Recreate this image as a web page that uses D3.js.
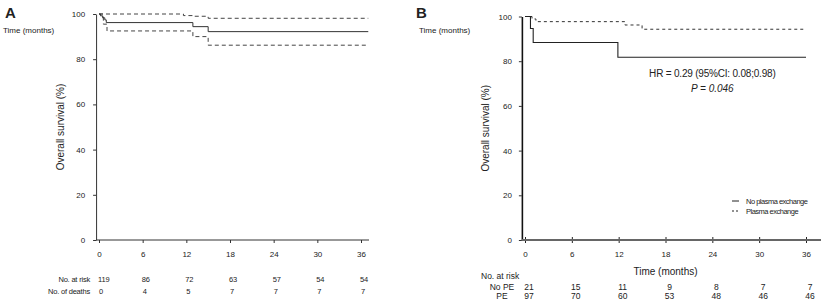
<!DOCTYPE html>
<html>
<head>
<meta charset="utf-8">
<script src="https://cdn.jsdelivr.net/npm/d3@7"></script>
<style>
  body { margin: 0; background: #fff; }
  svg text { font-family: "Liberation Sans", Arial, sans-serif; fill: #222; }
</style>
</head>
<body>
<div id="chart"></div>
<script>
/* DATA */
const monthTicks = [0, 6, 12, 18, 24, 30, 36];
const survTicks = [0, 20, 40, 60, 80, 100];

// panel A: overall KM curve with 95% CI  [month, survival %]
const aSurv = [[0, 100], [0.2, 99.2], [0.5, 98.3], [0.8, 97.4], [1.0, 96.2], [12.9, 94.4], [15, 92.2], [37, 92.2]];
const aUpper = [[0, 100], [11.6, 99.3], [12.9, 99.0], [15, 98.1], [37, 98.1]];
const aLower = [[0, 100], [0.6, 95.5], [1.1, 92.5], [12.9, 90.0], [15, 86.2], [37, 86.2]];
const aAtRisk = [119, 86, 72, 63, 57, 54, 54];
const aDeaths = [0, 4, 5, 7, 7, 7, 7];

// panel B: no plasma exchange vs plasma exchange
const bNoPE = [[0, 100], [0.7, 94.6], [1.05, 88.4], [11.9, 81.8], [36, 81.8]];
const bPE = [[0, 100], [0.9, 98.9], [1.4, 97.7], [12.8, 96.2], [15, 94.3], [36, 94.3]];
const bRiskNoPE = [21, 15, 11, 9, 8, 7, 7];
const bRiskPE = [97, 70, 60, 53, 48, 46, 46];

const width = 821, height = 306;

const svg = d3.select("#chart").append("svg")
  .attr("width", width)
  .attr("height", height);

/* PANEL A */
const xA = d3.scaleLinear().domain([0, 36]).range([99, 361]);
const yA = d3.scaleLinear().domain([0, 100]).range([240, 14]);
const axisXA = xA(-0.4);

const gA = svg.append("g");

gA.append("text").attr("x", 5).attr("y", 18)
  .attr("font-size", 15).attr("font-weight", "bold").text("A");
gA.append("text").attr("x", 3).attr("y", 33)
  .attr("font-size", 8).text("Time (months)");

// y axis
const yAxisA = gA.append("g")
  .attr("transform", `translate(${axisXA},0)`)
  .call(d3.axisLeft(yA).tickValues(survTicks).tickSize(3).tickSizeOuter(0).tickPadding(8));
yAxisA.selectAll("text").attr("font-size", 8).style("font-family", "Liberation Sans, Arial");
yAxisA.selectAll("path, line").attr("stroke", "#333");

// x axis
const xAxisA = gA.append("g")
  .attr("transform", `translate(0,${yA(0)})`)
  .call(d3.axisBottom(xA).tickValues(monthTicks).tickSize(3).tickSizeOuter(0).tickPadding(8));
xAxisA.select(".domain").remove();
xAxisA.append("line")
  .attr("x1", axisXA).attr("x2", xA(37.1))
  .attr("stroke", "#333");
xAxisA.selectAll("text").attr("font-size", 8).style("font-family", "Liberation Sans, Arial");
xAxisA.selectAll(".tick line").attr("stroke", "#333");

gA.append("text")
  .attr("transform", `translate(64,${(yA(0) + yA(100)) / 2}) rotate(-90)`)
  .attr("text-anchor", "middle")
  .attr("font-size", 10)
  .text("Overall survival (%)");

const lineA = d3.line()
  .x(d => xA(d[0]))
  .y(d => yA(d[1]))
  .curve(d3.curveStepAfter);

gA.append("path").datum(aUpper).attr("d", lineA)
  .attr("fill", "none").attr("stroke", "#444").attr("stroke-width", 1)
  .attr("stroke-dasharray", "4,3");
gA.append("path").datum(aLower).attr("d", lineA)
  .attr("fill", "none").attr("stroke", "#444").attr("stroke-width", 1)
  .attr("stroke-dasharray", "4,3");
gA.append("path").datum(aSurv).attr("d", lineA)
  .attr("fill", "none").attr("stroke", "#333").attr("stroke-width", 1);

// risk table A
gA.append("text").attr("x", 90).attr("y", 282).attr("text-anchor", "end")
  .attr("font-size", 7.5).attr("letter-spacing", -0.2).text("No. at risk");
gA.append("text").attr("x", 90).attr("y", 294).attr("text-anchor", "end")
  .attr("font-size", 7.5).attr("letter-spacing", -0.2).text("No. of deaths");

gA.selectAll(".riskA").data(aAtRisk).join("text")
  .attr("class", "riskA")
  .attr("x", (d, i) => xA(monthTicks[i]) - 1)
  .attr("y", 282).attr("font-size", 7.5).attr("letter-spacing", -0.2)
  .text(d => d);
gA.selectAll(".deathA").data(aDeaths).join("text")
  .attr("class", "deathA")
  .attr("x", (d, i) => xA(monthTicks[i]))
  .attr("y", 294).attr("font-size", 7.5)
  .text(d => d);

/* PANEL B */
const xB = d3.scaleLinear().domain([0, 36]).range([525, 806]);
const yB = d3.scaleLinear().domain([0, 100]).range([240, 16.5]);
const axisXB = xB(-0.4);

const gB = svg.append("g");

gB.append("text").attr("x", 416).attr("y", 18)
  .attr("font-size", 15).attr("font-weight", "bold").text("B");
gB.append("text").attr("x", 419).attr("y", 33)
  .attr("font-size", 8).text("Time (months)");

const yAxisB = gB.append("g")
  .attr("transform", `translate(${axisXB},0)`)
  .call(d3.axisLeft(yB).tickValues(survTicks).tickSize(3).tickSizeOuter(0).tickPadding(7));
yAxisB.selectAll("text").attr("font-size", 8).style("font-family", "Liberation Sans, Arial");
yAxisB.select(".domain").attr("stroke", "#111").attr("stroke-width", 1.6);
yAxisB.selectAll(".tick line").attr("stroke", "#333");

const xAxisB = gB.append("g")
  .attr("transform", `translate(0,${yB(0)})`)
  .call(d3.axisBottom(xB).tickValues(monthTicks).tickSize(3).tickSizeOuter(0).tickPadding(8));
xAxisB.select(".domain").remove();
xAxisB.append("line")
  .attr("x1", axisXB).attr("x2", width)
  .attr("stroke", "#666").attr("stroke-width", 1.8);
xAxisB.selectAll("text").attr("font-size", 8).style("font-family", "Liberation Sans, Arial");
xAxisB.selectAll(".tick line").attr("stroke", "#222").attr("y1", -3).attr("y2", 3);

gB.append("text")
  .attr("transform", `translate(489,${(yB(0) + yB(100)) / 2}) rotate(-90)`)
  .attr("text-anchor", "middle")
  .attr("font-size", 10)
  .text("Overall survival (%)");

gB.append("text")
  .attr("x", xB(18)).attr("y", 275)
  .attr("text-anchor", "middle").attr("font-size", 10)
  .text("Time (months)");

const lineB = d3.line()
  .x(d => xB(d[0]))
  .y(d => yB(d[1]))
  .curve(d3.curveStepAfter);

gB.append("path").datum(bPE).attr("d", lineB)
  .attr("fill", "none").attr("stroke", "#333").attr("stroke-width", 1)
  .attr("stroke-dasharray", "3,3");
gB.append("path").datum(bNoPE).attr("d", lineB)
  .attr("fill", "none").attr("stroke", "#222").attr("stroke-width", 1.1);

// HR annotation
gB.append("text")
  .attr("x", xB(24)).attr("y", 77)
  .attr("text-anchor", "middle").attr("font-size", 10).attr("letter-spacing", -0.2)
  .text("HR = 0.29 (95%CI: 0.08;0.98)");
gB.append("text")
  .attr("x", xB(24)).attr("y", 92)
  .attr("text-anchor", "middle").attr("font-size", 10).attr("font-style", "italic")
  .text("P = 0.046");

// legend
const legendItems = [
  { label: "No plasma exchange", dash: null },
  { label: "Plasma exchange", dash: "2,2" }
];
const legend = gB.append("g").attr("transform", "translate(732,201)");
legendItems.forEach((d, i) => {
  legend.append("line")
    .attr("x1", 0).attr("x2", 7)
    .attr("y1", i * 10).attr("y2", i * 10)
    .attr("stroke", "#222").attr("stroke-width", 1)
    .attr("stroke-dasharray", d.dash);
  legend.append("text")
    .attr("x", 14).attr("y", i * 10 + 3)
    .attr("font-size", 7.5).attr("letter-spacing", -0.5)
    .text(d.label);
});

// risk table B
gB.append("text").attr("x", 481).attr("y", 279)
  .attr("font-size", 8.5).text("No. at risk");
gB.append("text").attr("x", 502).attr("y", 290).attr("text-anchor", "middle")
  .attr("font-size", 8.5).text("No PE");
gB.append("text").attr("x", 502).attr("y", 299).attr("text-anchor", "middle")
  .attr("font-size", 8.5).text("PE");

gB.selectAll(".riskNoPE").data(bRiskNoPE).join("text")
  .attr("class", "riskNoPE")
  .attr("x", (d, i) => xB(monthTicks[i]) + 4)
  .attr("y", 290).attr("text-anchor", "middle").attr("font-size", 8.5)
  .text(d => d);
gB.selectAll(".riskPE").data(bRiskPE).join("text")
  .attr("class", "riskPE")
  .attr("x", (d, i) => xB(monthTicks[i]) + 4)
  .attr("y", 299).attr("text-anchor", "middle").attr("font-size", 8.5)
  .text(d => d);
</script>
</body>
</html>
